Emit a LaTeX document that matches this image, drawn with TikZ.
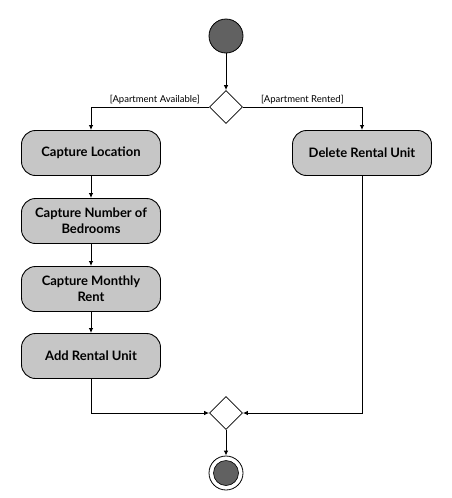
\documentclass[tikz,border=0pt]{standalone}
\usepackage{fontspec}
\setmainfont{Lato}
\usetikzlibrary{arrows.meta,shapes.geometric}

\tikzset{
  action/.style={draw, line width=0.9pt, fill=gray!45, rounded corners=14pt,
    minimum width=139pt, minimum height=45pt, align=center,
    font=\fontsize{13}{16}\selectfont\bfseries},
  choice/.style={draw, line width=0.7pt, fill=white, diamond, minimum size=33pt, inner sep=0pt},
  flow/.style={line width=1pt, -{Latex[length=5pt,width=4.5pt]}},
  guard/.style={font=\fontsize{9.5}{11}\selectfont, inner sep=2pt}
}

\begin{document}
\begin{tikzpicture}[x=1pt,y=-1pt]
\useasboundingbox (0,0) rectangle (452,498);
% start and first choice
\node[circle, draw, line width=0.8pt, fill=black!62, minimum size=34pt, inner sep=0pt] (start) at (226,36) {};
\node[choice] (split) at (226,107) {};
% actions
\node[action] (loc) at (91,153) {Capture Location};
\node[action] (beds) at (91,221) {Capture Number of\\Bedrooms};
\node[action] (rent) at (91,289) {Capture Monthly\\Rent};
\node[action] (add) at (91,356) {Add Rental Unit};
\node[action] (del) at (362,153) {Delete Rental Unit};
% merge and end
\node[choice] (merge) at (226,413) {};
\node[circle, draw, line width=0.8pt, fill=white, minimum size=34pt, inner sep=0pt] (stop) at (226,473) {};
\node[circle, draw, line width=0.6pt, fill=black!62, minimum size=25pt, inner sep=0pt] at (stop) {};

\draw[flow] (start) -- (split);
\draw[flow] (split.west) -| node[guard, above, pos=0.23] {[Apartment Available]} (loc.north);
\draw[flow] (split.east) -| node[guard, above, pos=0.25] {[Apartment Rented]} (del.north);
\draw[flow] (loc) -- (beds);
\draw[flow] (beds) -- (rent);
\draw[flow] (rent) -- (add);
\draw[flow] (add.south) |- (merge.west);
\draw[flow] (del.south) |- (merge.east);
\draw[flow] (merge) -- (stop);
\end{tikzpicture}
\end{document}
